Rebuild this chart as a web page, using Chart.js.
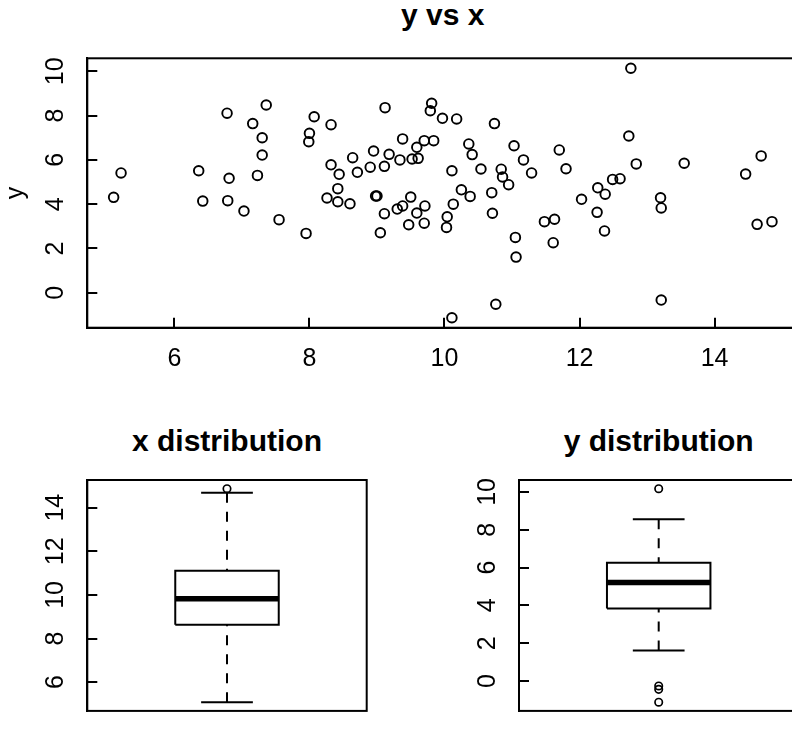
<!DOCTYPE html>
<html lang="en">
<head>
    <meta charset="UTF-8">
    <title>y vs x</title>
    <script src="https://cdn.jsdelivr.net/npm/chart.js"></script>
    <style>
        body { margin: 0; background: #fff; overflow: hidden; }
        .page { position: relative; width: 792px; height: 753px; overflow: hidden; font-family: "Liberation Sans", Arial, sans-serif; }
        .page canvas { position: absolute; }
        .title { position: absolute; font-weight: bold; font-size: 30px; line-height: 30px; text-align: center; white-space: nowrap; width: 300px; }
    </style>
</head>
<body>
<div class="page">
    <div class="title" style="left:292.8px; top:-0.4px;">y vs x</div>
    <div class="title" style="left:77px; top:426.3px;">x distribution</div>
    <div class="title" style="left:508.7px; top:426.3px;">y distribution</div>
    <canvas id="scatterChart" width="900" height="400" style="left:0; top:0;"></canvas>
    <canvas id="xBoxChart" width="400" height="353" style="left:0; top:400px;"></canvas>
    <canvas id="yBoxChart" width="500" height="353" style="left:400px; top:400px;"></canvas>
</div>

<script>
    // scatter data
    const xValues = [5.10, 5.21, 6.36, 6.42, 6.78, 6.81, 6.79, 7.03, 7.16, 7.30, 7.30, 7.23, 7.36, 7.55, 7.95, 8.07, 8.00, 7.99,
        8.32, 8.32, 8.44, 8.26, 8.42, 8.42, 8.60, 8.64, 8.71, 8.90, 8.95, 8.98, 9.00, 9.12, 9.11, 9.18, 9.11, 9.05,
        9.34, 9.38, 9.30, 9.38, 9.50, 9.47, 9.52, 9.61, 9.59, 9.70, 9.84, 9.59, 9.70, 9.71, 9.81, 9.79, 9.97, 10.18,
        10.11, 10.04, 10.03, 10.13, 10.11, 10.25, 10.36, 10.41, 10.38, 10.54, 10.74, 10.70, 10.71, 10.76, 10.84, 10.86,
        10.95, 11.03, 11.17, 11.29, 11.05, 11.06, 11.48, 11.63, 11.61, 11.70, 11.80, 12.03, 12.27, 12.38, 12.26, 12.37,
        12.49, 12.60, 12.73, 12.76, 12.84, 13.20, 13.21, 13.21, 13.55, 14.46, 14.69, 14.63, 14.85];
    const yValues = [4.31, 5.41, 5.51, 4.14, 8.11, 5.17, 4.16, 3.69, 7.64, 7.00, 6.22, 5.30, 8.48, 3.30, 2.68, 7.95, 7.20, 6.82,
        7.59, 5.78, 5.35, 4.28, 4.70, 4.11, 4.02, 6.10, 5.44, 5.67, 6.40, 4.37, 4.37, 8.36, 5.71, 6.25, 3.57, 2.71,
        6.00, 6.95, 3.78, 3.92, 4.32, 3.07, 6.04, 6.07, 6.57, 6.87, 6.87, 3.60, 3.14, 3.92, 8.56, 8.22, 7.88, 7.85,
        5.51, 3.43, 2.95, 4.00, -1.13, 4.65, 6.72, 6.24, 4.35, 5.59, 7.64, 4.52, 3.59, -0.52, 5.58, 5.23,
        4.88, 6.64, 6.00, 5.41, 2.50, 1.61, 3.21, 3.32, 2.26, 6.45, 5.60, 4.22, 4.74, 4.45, 3.63, 2.79,
        5.12, 5.15, 7.08, 10.14, 5.82, 4.29, 3.83, -0.33, 5.85, 5.36, 6.18, 3.09, 3.21];

    // tick labels
    const scatterXTicks = [6, 8, 10, 12, 14];
    const scatterYTicks = [0, 2, 4, 6, 8, 10];
    const xBoxTicks = [6, 8, 10, 12, 14];
    const yBoxTicks = [0, 2, 4, 6, 8, 10];

    // boxplot stats: lower whisker, Q1, median, Q3, upper whisker
    const xBoxStats = [5.08, 8.63, 9.82, 11.11, 14.68];
    const xOutliers = [14.87];
    const yBoxStats = [1.61, 3.84, 5.21, 6.25, 8.56];
    const yOutliers = [10.17, -0.26, -0.44, -1.12];

    const FONT = '"Liberation Sans", Arial, sans-serif';
    const boxHalf = 0.2, capHalf = 0.1;

    // R style box round the plot region
    const frame = {
        id: 'frame',
        afterDraw(chart) {
            const a = chart.chartArea, ctx = chart.ctx;
            ctx.save();
            ctx.strokeStyle = '#000';
            ctx.lineWidth = 2;
            ctx.strokeRect(a.left, a.top, a.right - a.left, a.bottom - a.top);
            ctx.restore();
        }
    };

    // negative tickLength -> tick marks point into the plot, like the original
    function tickAxis(min, max, ticks, extra) {
        return Object.assign({
            type: 'linear', min: min, max: max,
            afterBuildTicks: s => { s.ticks = ticks.map(v => ({ value: v })); },
            grid: { drawOnChartArea: false, drawTicks: true, tickLength: -10, color: '#000', lineWidth: 2 },
            border: { display: true, color: '#000', width: 2 },
        }, extra);
    }

    function yTicksOpts() {
        return { color: '#000', font: { family: FONT, size: 25 }, padding: 27.1, minRotation: 90, maxRotation: 90, crossAlign: 'center', autoSkip: false };
    }

    new Chart(document.getElementById('scatterChart'), {
        type: 'scatter',
        data: {
            datasets: [{
                data: xValues.map((x, i) => ({ x: x, y: yValues[i] })),
                pointStyle: 'circle', pointRadius: 4.8, borderWidth: 1.9,
                borderColor: '#000', backgroundColor: 'rgba(0,0,0,0)'
            }]
        },
        options: {
            responsive: false, animation: false,
            layout: { padding: { top: 58.3, right: 101.7, bottom: 0, left: 0 } },
            plugins: { legend: { display: false }, tooltip: { enabled: false } },
            scales: {
                x: tickAxis(4.71, 15.24, scatterXTicks, {
                    afterFit: s => { s.height = 72.3; },
                    ticks: { color: '#000', font: { family: FONT, size: 25 }, padding: 26.9, maxRotation: 0, autoSkip: false }
                }),
                y: tickAxis(-1.58, 10.59, scatterYTicks, {
                    afterFit: s => { s.width = 87.3; },
                    ticks: yTicksOpts(),
                    title: { display: true, text: 'y', color: '#000', font: { family: FONT, size: 25, lineHeight: 1.2 }, padding: { top: 1.3, bottom: 0 } }
                })
            }
        },
        plugins: [frame]
    });

    function boxDatasets(stats, outliers) {
        const [lo, q1, med, q3, hi] = stats;
        const line = (pts, extra) => Object.assign({
            type: 'line', data: pts, borderColor: '#000', borderWidth: 2, pointRadius: 0,
            fill: false, tension: 0, borderJoinStyle: 'miter'
        }, extra);
        return [
            line([{ x: 1 - boxHalf, y: q1 }, { x: 1 + boxHalf, y: q1 }, { x: 1 + boxHalf, y: q3 }, { x: 1 - boxHalf, y: q3 }, { x: 1 - boxHalf, y: q1 }]),
            line([{ x: 1 - boxHalf, y: med }, { x: 1 + boxHalf, y: med }], { borderWidth: 5.5 }),
            line([{ x: 1, y: hi }, { x: 1, y: q3 }], { borderDash: [10, 9] }),
            line([{ x: 1, y: lo }, { x: 1, y: q1 }], { borderDash: [10, 9] }),
            line([{ x: 1 - capHalf, y: hi }, { x: 1 + capHalf, y: hi }]),
            line([{ x: 1 - capHalf, y: lo }, { x: 1 + capHalf, y: lo }]),
            {
                type: 'scatter', data: outliers.map(v => ({ x: 1, y: v })),
                pointStyle: 'circle', pointRadius: 3.7, borderWidth: 1.7,
                borderColor: '#000', backgroundColor: 'rgba(0,0,0,0)'
            }
        ];
    }

    function boxChart(id, stats, outliers, yMin, yMax, ticks, axisWidth, padRight, padBottom) {
        return new Chart(document.getElementById(id), {
            type: 'scatter',
            data: { datasets: boxDatasets(stats, outliers) },
            options: {
                responsive: false, animation: false,
                layout: { padding: { top: 80, right: padRight, bottom: padBottom, left: 0 } },
                plugins: { legend: { display: false }, tooltip: { enabled: false } },
                scales: {
                    x: { type: 'linear', min: 0.46, max: 1.54, display: false },
                    y: tickAxis(yMin, yMax, ticks, {
                        afterFit: s => { s.width = axisWidth; },
                        ticks: yTicksOpts()
                    })
                }
            },
            plugins: [frame]
        });
    }

    boxChart('xBoxChart', xBoxStats, xOutliers, 4.68, 15.27, xBoxTicks, 87.3, 33.3, 3);
    boxChart('yBoxChart', yBoxStats, yOutliers, -1.58, 10.63, yBoxTicks, 119, 101.6, 3.4);
</script>
</body>
</html>
